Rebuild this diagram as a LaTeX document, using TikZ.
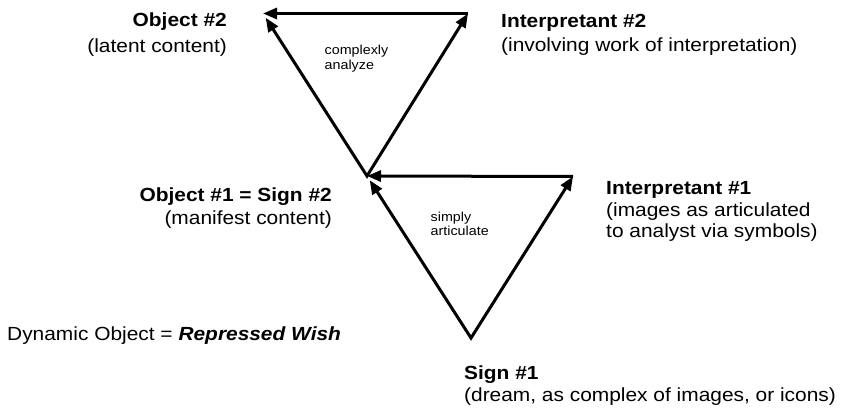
\documentclass[tikz,border=0pt]{standalone}
\usepackage{fontspec}
\setmainfont{Liberation Sans}[FakeStretch=1.1]
\usetikzlibrary{arrows.meta}
\begin{document}
\begin{tikzpicture}[x=1pt,y=-1pt,
  arr/.style={line width=3pt, -{Triangle[length=14pt,width=11pt]}},
  darr/.style={line width=3pt, line join=miter, {Triangle[length=14pt,width=11pt]}-{Triangle[length=14pt,width=11pt]}},
  lbl/.style={inner sep=0pt, text=black},
  small/.style={inner sep=0pt, align=left, anchor=base west, font=\fontsize{13}{14.5}\selectfont}]
\fill[white] (0,0) rectangle (841,411);
\useasboundingbox (0,0) rectangle (841,411);
% vertices
\coordinate (O2) at (263,13.5);
\coordinate (I2) at (468,13.5);
\coordinate (O1) at (367,176);
\coordinate (I1) at (573,176.5);
\coordinate (S1) at (471,338);
% upper triangle
\draw[darr, shorten <=5pt] (O2) -- (O1) -- (I2);
\draw[arr] (I2) -- (O2);
% lower triangle
\draw[darr, shorten <=5pt] (O1) -- (S1) -- (I1);
\draw[arr] (I1) -- (O1);
% labels (anchored at the baseline of the last line)
\node[lbl, align=right, anchor=base east, font=\fontsize{19}{25.5}\selectfont] (o2) at (227,52.5)
  {\textbf{Object \#2}\\(latent content)};
\node[lbl, align=left, anchor=base west, font=\fontsize{19}{24}\selectfont] (i2) at (501,52)
  {\textbf{Interpretant \#2}\\(involving work of interpretation)};
\node[lbl, align=right, anchor=base east, font=\fontsize{19}{23}\selectfont] (o1) at (332,225)
  {\textbf{Object \#1 = Sign \#2}\\(manifest content)};
\node[lbl, align=left, anchor=base west, font=\fontsize{19}{21.5}\selectfont] (i1) at (606,238)
  {\textbf{Interpretant \#1}\\(images as articulated\\to analyst via symbols)};
\node[lbl, align=left, anchor=base west, font=\fontsize{19}{22}\selectfont] (s1) at (464,402)
  {\textbf{Sign \#1}\\(dream, as complex of images, or icons)};
\node[lbl, anchor=base west, font=\fontsize{19}{22}\selectfont] (dyn) at (7,341)
  {Dynamic Object = \textbf{\textit{Repressed Wish}}};
\node[small] (ca) at (324.5,69.5) {complexly\\analyze};
\node[small] (sa) at (430.5,236) {simply\\articulate};
\end{tikzpicture}
\end{document}
